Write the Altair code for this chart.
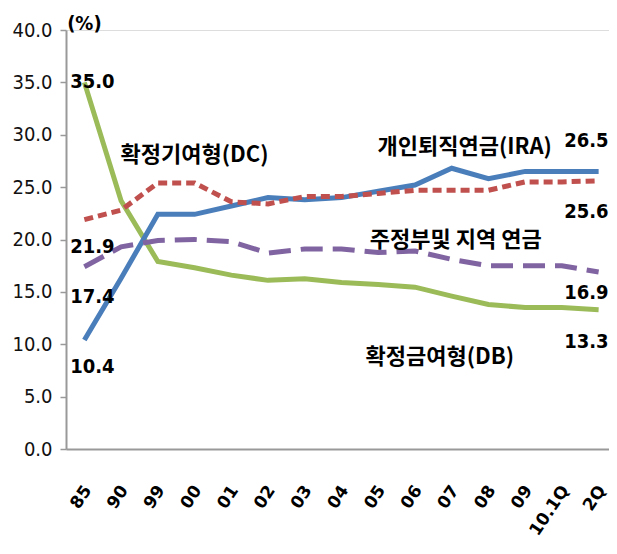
import altair as alt
import pandas as pd

categories = ["85", "90", "99", "00", "01", "02", "03", "04", "05", "06", "07", "08", "09", "10.1Q", "2Q"]
db_vals = [35.0, 23.7, 17.9, 17.3, 16.6, 16.1, 16.25, 15.9, 15.7, 15.45, 14.6, 13.8, 13.5, 13.5, 13.3]
ira_vals = [10.4, 16.3, 22.4, 22.4, 23.2, 24.0, 23.8, 24.0, 24.6, 25.2, 26.8, 25.8, 26.5, 26.5, 26.5]
dc_vals = [21.9, 22.8, 25.4, 25.4, 23.6, 23.4, 24.1, 24.1, 24.4, 24.7, 24.7, 24.7, 25.5, 25.5, 25.6]
state_vals = [17.4, 19.3, 19.9, 20.0, 19.8, 18.7, 19.1, 19.1, 18.75, 18.9, 18.1, 17.5, 17.5, 17.5, 16.9]

series_names = ["DB", "IRA", "DC", "STATE"]
series_vals = [db_vals, ira_vals, dc_vals, state_vals]
series_colors = ["#9BBB59", "#4A7EBB", "#C0504D", "#8064A2"]

rows = []
for name, vals in zip(series_names, series_vals):
    for i, (c, v) in enumerate(zip(categories, vals)):
        rows.append({"series": name, "cat": c, "order": i, "value": v})
df = pd.DataFrame(rows)

NUM_FONT = "Liberation Sans Narrow, DejaVu Sans Condensed, Liberation Sans"
KR_FONT = "Noto Sans CJK KR"

xscale = alt.Scale(domain=categories, type="point", padding=0.5, range=[0, 551])
yscale = alt.Scale(domain=[0, 40])

x_enc = alt.X("cat:N", scale=xscale, sort=categories,
              axis=alt.Axis(title=None, labelAngle=-56, labelFont="DejaVu Sans", labelFontSize=17,
                            labelFontWeight="bold", labelColor="#000", labelAlign="right",
                            labelBaseline="middle", labelPadding=38, labelOffset=3, ticks=False,
                            domainColor="#999", domainWidth=2, grid=False))
y_enc = alt.Y("value:Q", scale=yscale,
              axis=alt.Axis(title=None, values=[0, 5, 10, 15, 20, 25, 30, 35, 40], format=".1f",
                            labelFont=NUM_FONT, labelFontSize=20, labelColor="#111",
                            labelPadding=8, tickSize=6, tickColor="#999", tickWidth=1.5,
                            domainColor="#999", domainWidth=2, grid=False))

def line(name, color, dash=None):
    kw = dict(color=color, strokeWidth=5)
    if dash:
        kw["strokeDash"] = dash
    return alt.Chart(df[df.series == name]).mark_line(**kw).encode(
        x=x_enc, y=y_enc, order="order:Q")

l_db = line("DB", series_colors[0])
l_ira = line("IRA", series_colors[1])
l_dc = line("DC", series_colors[2], [9, 5])
l_st = line("STATE", series_colors[3], [22, 10])

# value labels
val_text = ["35.0", "21.9", "17.4", "10.4", "26.5", "25.6", "16.9", "13.3", "(%)"]
val_cat = ["85", "85", "85", "85", "2Q", "2Q", "2Q", "2Q", "85"]
val_y = [35.0, 21.9, 17.4, 10.4, 26.5, 25.6, 16.9, 13.3, 40.0]
val_dx = [8, 8, 8, 8, 10, 10, 10, 10, 0]
val_dy = [0, 27, 30, 27, -30, 31, 21, 32, -6]
val_align = ["center"] * 4 + ["right"] * 4 + ["center"]

layers = [l_db, l_ira, l_dc, l_st]
for t, c, v, dx, dy, al in zip(val_text, val_cat, val_y, val_dx, val_dy, val_align):
    d = pd.DataFrame({"cat": [c], "value": [v], "t": [t]})
    layers.append(alt.Chart(d).mark_text(font=NUM_FONT, fontSize=20, fontWeight="bold",
                                         color="#000", dx=dx, dy=dy, align=al,
                                         baseline="middle").encode(
        x=alt.X("cat:N", scale=xscale, sort=categories),
        y=alt.Y("value:Q", scale=yscale), text="t:N"))

ann_text = ["확정기여형(DC)", "개인퇴직연금(IRA)", "주정부및 지역 연금", "확정금여형(DB)"]
ann_cat = ["00", "07", "07", "07"]
ann_y = [28.1, 28.85, 20.0, 8.8]
ann_dx = [0, 13, 4, -12]
for t, c, v, dx in zip(ann_text, ann_cat, ann_y, ann_dx):
    d = pd.DataFrame({"cat": [c], "value": [v], "t": [t]})
    layers.append(alt.Chart(d).mark_text(font=KR_FONT, fontSize=22, fontWeight="bold",
                                         color="#000", dx=dx, align="center",
                                         baseline="middle").encode(
        x=alt.X("cat:N", scale=xscale, sort=categories),
        y=alt.Y("value:Q", scale=yscale), text="t:N"))

chart = alt.layer(*layers).properties(
    width=543, height=419,
    autosize=alt.AutoSizeParams(type="none"),
    padding={"left": 58, "top": 22, "right": 0, "bottom": 96},
).configure_view(stroke=None).configure(background="white")

chart.save("out.html", embed_options={"renderer": "svg", "actions": False})
